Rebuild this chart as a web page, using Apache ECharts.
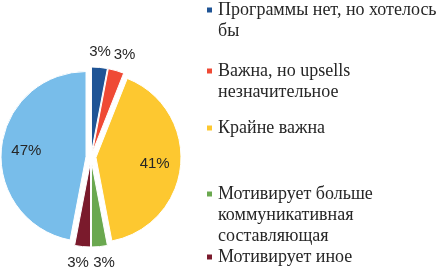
<!DOCTYPE html>
<html>
<head>
<meta charset="utf-8">
<script src="https://cdn.jsdelivr.net/npm/echarts@6/dist/echarts.min.js"></script>
<style>
  html, body { margin: 0; padding: 0; background: #fff; }
  #main { width: 444px; height: 274px; }
</style>
</head>
<body>
<div id="main"></div>
<script>
var categories = [
    'Программы нет, но хотелось бы',
    'Важна, но upsells незначительное',
    'Крайне важна',
    'Мотивирует больше коммуникативная составляющая',
    'Мотивирует иное',
    'Другое'
];
var legendLines = [
    ['Программы нет, но хотелось', 'бы'],
    ['Важна, но upsells', 'незначительное'],
    ['Крайне важна'],
    ['Мотивирует больше', 'коммуникативная', 'составляющая'],
    ['Мотивирует иное']
];
var values = [3, 3, 41, 3, 3, 47];
var colors = ['#1f5495', '#ef4a35', '#fdc830', '#6aa84f', '#7a1a2c', '#78bdea'];

var myChart = echarts.init(document.getElementById('main'));

var cx = 91, cy = 157, r = 85;
var lh = 21;
var firstLineY = [10, 71, 128, 194, 257];
// small shifts so labels sit where excel put them
var labelNudge = [[-1, 2], [4, 0], [-4, 0], [3, -2], [-3, 4], [3, -7]];

// pie labels ignore offset, so shift them with uneven padding
function nudgePadding(d) {
    return [
        Math.max(0, 2 * d[1]), Math.max(0, -2 * d[0]),
        Math.max(0, -2 * d[1]), Math.max(0, 2 * d[0])
    ];
}

var pieData = values.map(function (v, i) {
    return { name: categories[i], value: v, selected: true, itemStyle: { color: colors[i] } };
});
// big slices get their label inside, small ones outside
function labelItems(big) {
    return values.map(function (v, i) {
        return {
            name: categories[i], value: v, selected: true,
            label: { show: (v >= 10) === big, padding: nudgePadding(labelNudge[i]) }
        };
    });
}

// icon sits on the first line: pad the text with empty lines above
var legends = legendLines.map(function (lines, i) {
    var n = lines.length;
    var text = new Array(n).join('\n') + lines.join('\n');
    return {
        data: [categories[i]],
        left: 205,
        top: firstLineY[i] - (2 * n - 1) * lh / 2,
        padding: 0,
        icon: 'rect',
        itemWidth: 7,
        itemHeight: 7,
        itemGap: 0,
        selectedMode: false,
        formatter: function () { return text; },
        textStyle: {
            fontFamily: 'Liberation Serif',
            fontSize: 18,
            color: '#262626',
            lineHeight: lh
        }
    };
});

var pctLabel = {
    position: 'inside',
    fontFamily: 'Liberation Sans',
    fontSize: 15,
    color: '#262626',
    formatter: '{c}%'
};

var option = {
    animation: false,
    color: colors,
    legend: legends,
    series: [
        {
            type: 'pie',
            center: [cx, cy],
            radius: [0, r],
            startAngle: 90,
            selectedMode: 'multiple',
            selectedOffset: 5,
            silent: true,
            label: { show: false },
            labelLine: { show: false },
            itemStyle: { borderColor: '#fff', borderWidth: 1 },
            data: pieData
        },
        {
            type: 'pie',
            z: 5,
            center: [cx, cy],
            radius: [38, 82],
            startAngle: 90,
            selectedMode: 'multiple',
            selectedOffset: 5,
            silent: true,
            itemStyle: { color: 'transparent' },
            labelLine: { show: false },
            labelLayout: { hideOverlap: false },
            label: pctLabel,
            data: labelItems(true)
        },
        {
            type: 'pie',
            z: 5,
            center: [cx, cy],
            radius: [92, 104],
            startAngle: 90,
            selectedMode: 'multiple',
            selectedOffset: 5,
            silent: true,
            itemStyle: { color: 'transparent' },
            labelLine: { show: false },
            labelLayout: { hideOverlap: false },
            label: pctLabel,
            data: labelItems(false)
        }
    ]
};
myChart.setOption(option);
</script>
</body>
</html>
